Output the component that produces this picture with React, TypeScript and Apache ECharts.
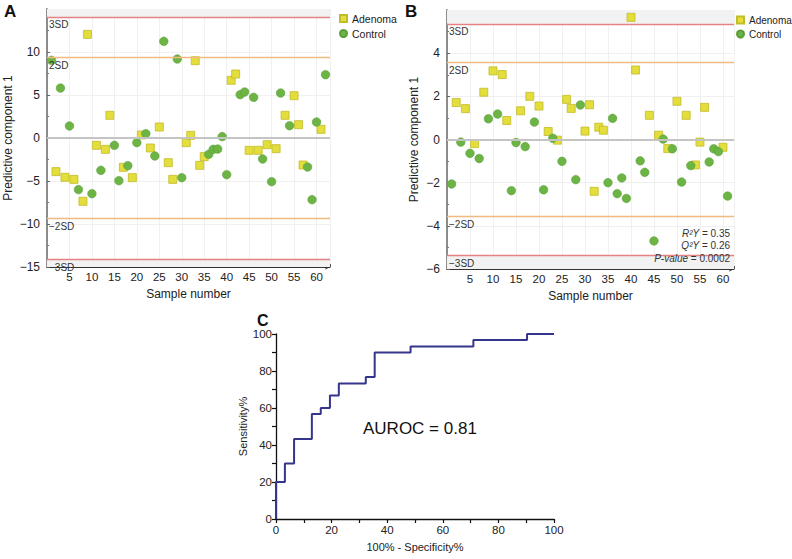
import React, { useEffect, useRef } from "react";
import * as echarts from "echarts";

// ---------- Data ----------
// Panel A: predictive component 1 per sample (sample number = position + 1)
const panelAValues = [
  9.03, -3.91, 5.81, -4.57, 1.4, -4.81, -6.0, -7.36, 12.05, -6.47,
  -0.85, -3.76, -1.32, 2.64, -0.85, -4.96, -3.41, -3.22, -4.61, -0.54,
  0.35, 0.5, -1.16, -2.09, 1.28, 11.24, -2.87, -4.81, 9.19, -4.61,
  -0.54, 0.31, 8.99, -3.18, -2.17, -1.9, -1.32, -1.28, 0.16, -4.26,
  6.71, 7.44, 5.04, 5.35, -1.43, 4.73, -1.43, -2.44, -0.78, -5.08,
  -1.24, 5.23, 2.64, 1.43, 4.92, 1.55, -3.14, -3.37, -7.17, 1.86,
  1.01, 7.36,
];
// A = Adenoma, C = Control
const panelAGroups = (
  "CACACACAAC" + "ACAACCACAC" + "ACACACAACC" + "AAAAACCCCC" + "AACCACACAC" + "ACACAAACCC" + "AC"
).split("");

const panelBValues = [
  -2.06, 1.71, -0.12, 1.43, -0.64, -0.19, -0.88, 2.19, 0.96, 3.18,
  1.18, 3.01, 0.88, -2.37, -0.14, 1.33, -0.33, 2.0, 0.81, 1.55,
  -2.33, 0.37, 0.06, -0.03, -1.01, 1.86, 1.44, -1.86, 1.6, 0.39,
  1.61, -2.4, 0.57, 0.43, -2.0, 0.98, -2.51, -1.78, -2.73, 5.66,
  3.22, -0.99, -1.52, 1.12, -4.7, 0.2, 0.02, -0.42, -0.43, 1.77,
  -1.97, 1.12, -1.21, -1.18, -0.12, 1.49, -1.04, -0.43, -0.56, -0.36,
  -2.62,
];
const panelBGroups = (
  "CACACACACA" + "CAACCACACA" + "CACACAACCA" + "AAAACCCCCA" + "ACCACACACA" + "CACAAACCCA" + "C"
).split("");

const panelASD = { sd2: 9.36, sd3: 14.07 };
const panelBSD = { sd2: 3.57, sd3: 5.36 };
const panelAYRange = [-15, 15];
const panelBYRange = [-6, 6];

const panelBStats = ["{i|R²Y} = 0.35", "{i|Q²Y} = 0.26", "{i|P-value} = 0.0002"];

// Panel C: ROC curve (100% - specificity %, sensitivity %)
const rocFpr = [0, 0, 3.2, 6.5, 12.9, 16.1, 19.4, 22.6, 32.3, 35.5, 48.4, 71.0, 90.3, 100];
const rocTpr = [0, 20, 30, 43.3, 56.7, 60, 66.7, 73.3, 76.7, 90, 93.3, 96.7, 100, 100];
const aurocText = "AUROC = 0.81";

const seriesNames = { A: "Adenoma", C: "Control" };

// ---------- Helpers ----------
const FONT = "'Liberation Sans', Arial, Helvetica, sans-serif";
const TXT = "#222";
const YELLOW = "#e3de3c";
const YELLOW_B = "#c2bb2a";
const GREEN = "#6cb544";
const GREEN_B = "#5a9d37";
const SD3_COLOR = "#e48383";
const SD2_COLOR = "#f2ba80";

const minus = (v: number) => String(v).replace("-", "\u2212");

function points(values: number[], groups: string[], g: string) {
  const out: number[][] = [];
  values.forEach((v, i) => {
    if (groups[i] === g) out.push([i + 1, v]);
  });
  return out;
}

function bandSeries(idx: number, sd: { sd2: number; sd3: number }, range: number[]) {
  return {
    type: "scatter",
    name: "band" + idx,
    xAxisIndex: idx,
    yAxisIndex: idx,
    data: [],
    z: 0,
    silent: true,
    markArea: {
      silent: true,
      itemStyle: { color: "#f2f2f2", borderWidth: 0 },
      data: [
        [{ yAxis: sd.sd3 }, { yAxis: range[1] }],
        [{ yAxis: range[0] }, { yAxis: -sd.sd3 }],
      ],
    },
  };
}

function sdSeries(idx: number, sd: { sd2: number; sd3: number }) {
  const mk = (v: number, color: string, text: string | null, width = 1.3) => ({
    yAxis: v,
    lineStyle: { color, width, type: "solid", opacity: 1 },
    label: text ? { show: true, formatter: text } : { show: false },
  });
  return {
    type: "scatter",
    name: "sd" + idx,
    xAxisIndex: idx,
    yAxisIndex: idx,
    data: [],
    z: 2,
    silent: true,
    markLine: {
      silent: true,
      symbol: "none",
      label: {
        position: "insideStartBottom",
        fontSize: 10,
        color: "#333",
        fontFamily: FONT,
        distance: [2, 3],
      },
      lineStyle: { type: "solid", width: 1.3 },
      data: [
        mk(sd.sd3, SD3_COLOR, "3SD"),
        mk(sd.sd2, SD2_COLOR, "2SD"),
        mk(0, "#c4c4c4", null, 2),
        mk(-sd.sd2, SD2_COLOR, "\u22122SD"),
        mk(-sd.sd3, SD3_COLOR, "\u22123SD"),
      ],
    },
  };
}

function scatterSeries(idx: number, values: number[], groups: string[]) {
  return [
    {
      type: "scatter",
      name: seriesNames.A,
      xAxisIndex: idx,
      yAxisIndex: idx,
      symbol: "rect",
      symbolSize: 8,
      z: 3,
      itemStyle: { color: YELLOW, borderColor: YELLOW_B, borderWidth: 0.8, opacity: 1 },
      data: points(values, groups, "A"),
    },
    {
      type: "scatter",
      name: seriesNames.C,
      xAxisIndex: idx,
      yAxisIndex: idx,
      symbol: "circle",
      symbolSize: 8.5,
      z: 3,
      itemStyle: { color: GREEN, borderColor: GREEN_B, borderWidth: 0.6, opacity: 1 },
      data: points(values, groups, "C"),
    },
  ];
}

function sampleXAxis(idx: number, max: number) {
  return {
    gridIndex: idx,
    type: "value",
    min: 0,
    max,
    interval: 5,
    name: "Sample number",
    nameLocation: "middle",
    nameGap: 21,
    nameTextStyle: { fontSize: 12, color: TXT, fontFamily: FONT },
    axisLine: {
      show: true,
      onZero: false,
      lineStyle: { color: "#333", width: 1.2 },
      symbol: ["none", "arrow"],
      symbolSize: [4, 5],
    },
    axisTick: { show: true, inside: true, length: 3, lineStyle: { color: "#555" } },
    minorTick: { show: true, splitNumber: 5, length: 2, lineStyle: { color: "#777" } },
    axisLabel: {
      formatter: (v: number) => (v > 0 && v % 5 === 0 ? String(v) : ""),
      fontSize: 11.5,
      color: TXT,
      fontFamily: FONT,
      margin: 4,
    },
    splitLine: { show: true, lineStyle: { color: "#f0f0f0" } },
  };
}

function compYAxis(idx: number, range: number[], interval: number, gap: number) {
  return {
    gridIndex: idx,
    type: "value",
    min: range[0],
    max: range[1],
    interval,
    name: "Predictive component 1",
    nameLocation: "middle",
    nameGap: gap,
    nameTextStyle: { fontSize: 12, color: TXT, fontFamily: FONT },
    axisLine: { show: true, lineStyle: { color: "#8c8c8c", width: 2 } },
    axisTick: { show: true, inside: true, length: 3, lineStyle: { color: "#666" } },
    minorTick: { show: true, splitNumber: 2, length: 2, lineStyle: { color: "#777" } },
    axisLabel: {
      formatter: (v: number) => (v === range[1] ? "" : minus(v)),
      fontSize: 12,
      color: TXT,
      fontFamily: FONT,
      margin: 7,
    },
    splitLine: { show: true, lineStyle: { color: "#f0f0f0" } },
  };
}

function legendAt(left: number, top: number, fontSize: number) {
  return {
    orient: "vertical",
    left,
    top,
    itemWidth: 7,
    itemHeight: 7,
    itemGap: 4,
    selectedMode: false,
    textStyle: { fontSize, color: TXT, fontFamily: FONT },
    data: [
      { name: seriesNames.A, icon: "rect" },
      { name: seriesNames.C, icon: "circle" },
    ],
  };
}

export default function App() {
  const ref = useRef<HTMLDivElement>(null);

  useEffect(() => {
    if (!ref.current) return;
    const chart = echarts.init(ref.current, undefined, { renderer: "svg" });

    const rocData = rocFpr.map((x, i) => [x, rocTpr[i]]);

    const option = {
      animation: false,
      backgroundColor: "#ffffff",
      textStyle: { fontFamily: FONT },
      grid: [
        { left: 47, top: 9, width: 283, height: 258 },
        { left: 447, top: 10, width: 287, height: 259 },
        { left: 276, top: 334, width: 278, height: 185 },
      ],
      legend: [legendAt(334, 8, 10.5), legendAt(731, 10, 10)],
      xAxis: [
        sampleXAxis(0, 63),
        sampleXAxis(1, 62.4),
        {
          gridIndex: 2,
          type: "value",
          min: 0,
          max: 100,
          interval: 10,
          name: "100% - Specificity%",
          nameLocation: "middle",
          nameGap: 22,
          nameTextStyle: { fontSize: 11, color: TXT, fontFamily: FONT },
          axisLine: { show: true, onZero: false, lineStyle: { color: "#111", width: 1.3 } },
          axisTick: { show: true, length: 4, lineStyle: { color: "#111", width: 1.2 } },
          axisLabel: {
            formatter: (v: number) => (v % 20 === 0 ? String(v) : ""),
            fontSize: 11.5,
            color: TXT,
            fontFamily: FONT,
            margin: 5,
          },
          splitLine: { show: false },
        },
      ],
      yAxis: [
        compYAxis(0, panelAYRange, 5, 33),
        compYAxis(1, panelBYRange, 2, 27),
        {
          gridIndex: 2,
          type: "value",
          min: 0,
          max: 100,
          interval: 10,
          name: "Sensitivity%",
          nameLocation: "middle",
          nameGap: 20,
          nameTextStyle: { fontSize: 11, color: TXT, fontFamily: FONT },
          axisLine: { show: true, onZero: false, lineStyle: { color: "#111", width: 1.3 } },
          axisTick: { show: true, length: 4, lineStyle: { color: "#111", width: 1.2 } },
          axisLabel: {
            formatter: (v: number) => (v % 20 === 0 ? String(v) : ""),
            fontSize: 11.5,
            color: TXT,
            fontFamily: FONT,
            margin: 4,
          },
          splitLine: { show: false },
        },
      ],
      series: [
        bandSeries(0, panelASD, panelAYRange),
        sdSeries(0, panelASD),
        ...scatterSeries(0, panelAValues, panelAGroups),
        bandSeries(1, panelBSD, panelBYRange),
        sdSeries(1, panelBSD),
        ...scatterSeries(1, panelBValues, panelBGroups),
        {
          type: "line",
          name: "ROC",
          xAxisIndex: 2,
          yAxisIndex: 2,
          step: "end",
          symbol: "none",
          lineStyle: { color: "#35358c", width: 2 },
          data: rocData,
          z: 3,
        },
      ],
      graphic: [
        { type: "text", left: 4, top: 3, z: 100, style: { text: "A", font: `bold 17px ${FONT}`, fill: "#111" } },
        { type: "text", left: 405, top: 3, z: 100, style: { text: "B", font: `bold 17px ${FONT}`, fill: "#111" } },
        { type: "text", left: 257, top: 312, z: 100, style: { text: "C", font: `bold 16px ${FONT}`, fill: "#111" } },
        {
          type: "text",
          left: 363,
          top: 420,
          z: 100,
          style: { text: aurocText, font: `17px ${FONT}`, fill: "#111" },
        },
        ...panelBStats.map((t, i) => ({
          type: "text",
          x: 730,
          y: 233 + i * 12.5,
          z: 100,
          style: {
            text: t,
            align: "right",
            verticalAlign: "middle",
            font: `10px ${FONT}`,
            fill: "#333",
            rich: { i: { fontStyle: "italic", fontSize: 10, fontFamily: FONT, fill: "#333" } },
          },
        })),
      ],
    };

    chart.setOption(option as any);
    return () => chart.dispose();
  }, []);

  return (
    <div
      ref={ref}
      style={{ position: "absolute", left: 0, top: 0, width: 792, height: 559 }}
    />
  );
}
